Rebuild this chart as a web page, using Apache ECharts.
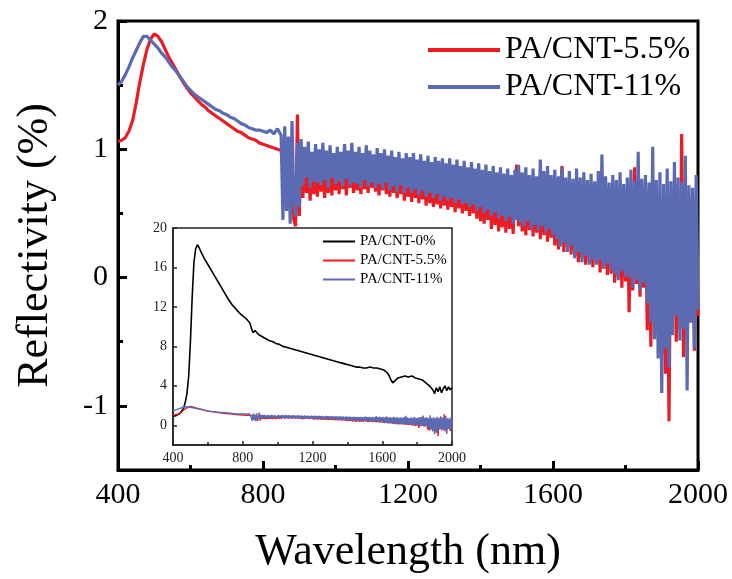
<!DOCTYPE html>
<html><head><meta charset="utf-8">
<script src="https://cdn.jsdelivr.net/npm/echarts@6/dist/echarts.min.js"></script>
<style>html,body{margin:0;padding:0;background:#fff}#c{width:732px;height:579px}</style>
</head><body><div id="c"></div>
<script>
// ---- tick values ----
const xTicks = [400, 800, 1200, 1600, 2000];
const yTicks = [-1, 0, 1, 2];
const yMinorTicks = [-0.5, 0.5, 1.5];
const insetYTicks = [0, 4, 8, 12, 16, 20];

// ---- smooth region 400..850 nm, sampled every 10 nm ----
const smoothStart = 400, smoothStep = 10;
const red55Smooth = [
  1.06,1.07,1.09,1.14,1.22,1.36,1.52,1.66,1.78,1.86,
  1.90,1.88,1.84,1.78,1.72,1.67,1.62,1.57,1.52,1.48,
  1.44,1.41,1.38,1.35,1.33,1.30,1.28,1.26,1.24,1.22,
  1.20,1.18,1.16,1.14,1.13,1.11,1.09,1.08,1.07,1.05,
  1.04,1.03,1.02,1.01,1.00,0.99];
const blue11Smooth = [
  1.50,1.53,1.58,1.64,1.71,1.77,1.83,1.88,1.88,1.85,
  1.82,1.79,1.75,1.72,1.68,1.64,1.61,1.57,1.53,1.49,
  1.46,1.43,1.41,1.39,1.37,1.35,1.33,1.31,1.30,1.28,
  1.27,1.25,1.24,1.22,1.20,1.19,1.17,1.16,1.15,1.15,
  1.14,1.13,1.15,1.12,1.16,1.11];

// ---- noisy region 855..2000 nm, sampled every 5 nm ----
const noiseStart = 855, noiseStep = 5;
const red55Noise = [
  0.98,0.70,1.00,0.62,0.95,0.75,0.45,0.40,1.27,0.48,
  0.92,0.62,0.96,0.66,0.90,0.60,0.94,0.65,0.88,0.63,
  0.93,0.67,0.90,0.62,0.95,0.66,0.89,0.64,0.92,0.68,
  0.90,0.65,0.94,0.69,0.88,0.64,0.92,0.70,0.89,0.66,
  0.93,0.68,0.88,0.65,0.91,0.69,0.87,0.66,0.92,0.70,
  0.88,0.67,0.91,0.64,0.87,0.68,0.90,0.65,0.86,0.63,
  0.89,0.66,0.85,0.62,0.88,0.65,0.84,0.60,0.87,0.63,
  0.84,0.59,0.88,0.62,0.83,0.58,0.86,0.61,0.82,0.56,
  0.85,0.58,0.81,0.55,0.84,0.57,0.80,0.54,0.83,0.56,
  0.79,0.53,0.82,0.55,0.78,0.51,0.81,0.54,0.77,0.50,
  0.80,0.52,0.76,0.48,0.79,0.50,0.75,0.46,0.78,0.44,
  0.74,0.42,0.77,0.45,0.73,0.38,0.76,0.41,0.72,0.36,
  0.75,0.39,0.71,0.35,0.74,0.38,0.70,0.34,0.73,0.88,
  0.40,0.72,0.36,0.70,0.33,0.74,0.37,0.69,0.32,0.72,
  0.35,0.68,0.30,0.71,0.33,0.67,0.28,0.70,0.31,0.66,
  0.25,0.69,0.22,0.65,0.87,0.20,0.68,0.24,0.64,0.18,
  0.67,0.17,0.63,0.12,0.66,0.15,0.62,0.10,0.65,0.12,
  0.60,0.08,0.64,0.11,0.59,0.04,0.63,0.07,0.58,0.02,
  0.62,0.03,0.57,-0.04,0.61,0.00,0.56,-0.08,0.60,-0.03,
  0.55,-0.27,0.59,-0.10,0.86,-0.05,0.58,-0.15,0.53,-0.08,
  0.57,-0.41,0.52,-0.54,0.56,-0.30,0.51,-0.45,0.55,-0.60,
  0.50,-0.75,0.54,-1.12,0.49,-0.28,0.53,-0.50,0.48,-0.40,
  1.12,-0.62,0.52,-0.45,0.47,-0.35,0.51,-0.57,0.46,-0.30];
const blue11Noise = [
  0.45,1.18,0.52,1.10,0.42,1.22,0.60,0.48,1.05,0.55,
  1.08,0.72,1.02,0.78,1.06,0.70,0.98,0.75,1.04,0.74,
  1.00,0.72,1.05,0.76,0.99,0.70,1.03,0.78,0.97,0.73,
  1.02,0.75,0.98,0.71,1.04,0.77,0.99,0.72,1.05,0.74,
  0.98,0.73,1.02,0.70,0.97,0.76,1.03,0.71,0.99,0.74,
  0.96,0.70,1.01,0.73,0.97,0.69,1.00,0.74,0.95,0.68,
  0.99,0.71,0.94,0.67,0.98,0.72,0.93,0.66,0.97,0.70,
  0.94,0.66,0.97,0.69,0.92,0.64,0.96,0.68,0.91,0.63,
  0.95,0.66,0.90,0.62,0.94,0.65,0.91,0.60,0.93,0.63,
  0.89,0.60,0.93,0.62,0.88,0.58,0.92,0.61,0.87,0.57,
  0.91,0.58,0.86,0.55,0.90,0.57,0.85,0.52,0.89,0.55,
  0.84,0.50,0.88,0.53,0.83,0.48,0.87,0.51,0.82,0.46,
  0.86,0.48,0.81,0.44,0.85,0.47,0.80,0.42,0.84,0.45,
  0.88,0.43,0.82,0.40,0.86,0.44,0.80,0.38,0.85,0.41,
  0.79,0.37,0.92,0.40,0.83,0.35,0.87,0.38,0.80,0.33,
  0.84,0.30,0.79,0.24,0.86,0.27,0.78,0.20,0.83,0.25,
  0.77,0.15,0.85,0.20,0.78,0.12,0.82,0.17,0.76,0.10,
  0.81,0.14,0.75,0.10,0.83,0.13,0.96,0.07,0.79,0.11,
  0.74,0.06,0.80,0.03,0.76,-0.02,0.82,0.05,0.73,0.01,
  0.78,0.00,0.84,-0.08,0.75,-0.02,0.98,-0.10,0.77,-0.04,
  0.80,-0.20,0.74,-0.35,1.02,-0.48,0.76,-0.63,0.82,-0.90,
  0.73,-0.55,0.85,-0.70,0.75,-0.45,0.90,-0.30,0.78,-0.49,
  0.74,-0.40,0.95,-0.88,0.72,-0.35,0.70,-0.55,0.80,-0.25];

// ---- inset PA/CNT-0% ----
const black0Wl = [400,420,440,460,470,480,490,500,510,520,530,540,550,560,580,600,620,640,660,680,
  700,720,740,760,780,800,820,840,850,858,870,890,910,930,950,970,990,1010,1030,1050,
  1070,1090,1110,1130,1150,1170,1190,1210,1230,1250,1270,1290,1310,1330,1350,1370,1390,1410,1430,1450,
  1470,1490,1510,1530,1550,1570,1590,1610,1630,1640,1650,1660,1670,1690,1710,1730,1750,1770,1790,1810,
  1830,1850,1870,1890,1900,1910,1920,1930,1940,1950,1960,1970,1980,1990,2000];
const black0Val = [0.9,1.0,1.2,1.7,2.3,3.2,5.0,8.5,13.0,16.5,17.9,18.3,18.0,17.6,16.9,16.3,15.7,15.1,14.5,13.9,
  13.3,12.7,12.2,11.8,11.4,11.1,10.8,10.4,10.2,9.4,9.6,9.2,9.0,8.8,8.6,8.5,8.3,8.2,8.0,7.9,
  7.8,7.7,7.6,7.5,7.4,7.3,7.2,7.1,7.0,6.9,6.8,6.7,6.6,6.5,6.4,6.3,6.2,6.1,6.0,5.9,
  5.9,5.8,5.8,5.9,5.8,5.8,5.7,5.6,5.3,5.0,4.6,4.3,4.5,4.8,4.9,5.0,4.9,5.0,4.8,4.7,
  4.6,4.3,4.0,3.6,3.2,3.8,3.4,3.9,3.3,3.7,4.0,3.5,3.9,3.6,3.8];

function build(smooth, noise) {
  return smooth.map((v, i) => [smoothStart + smoothStep * i, v])
    .concat(noise.map((v, i) => [noiseStart + noiseStep * i, v]));
}
const redData = build(red55Smooth, red55Noise);
const blueData = build(blue11Smooth, blue11Noise);
const blackData = black0Wl.map((w, i) => [w, black0Val[i]]);

const RED = '#ec1c24', BLUE = '#5b6bb3', BLACK = '#000';
const FONT = "'Liberation Serif', 'Times New Roman', serif";
const plain = v => String(v);

const chart = echarts.init(document.getElementById('c'), null, {renderer: 'canvas'});
chart.setOption({
  animation: false,
  backgroundColor: '#fff',
  grid: [
    {left: 118, top: 21, width: 580, height: 451, show: true, borderColor: '#000', borderWidth: 3, backgroundColor: 'transparent'},
    {left: 173, top: 228, width: 279, height: 217, show: true, borderColor: '#222', borderWidth: 1.5, backgroundColor: '#fff'}
  ],
  legend: [
    {data: ['PA/CNT-5.5%', 'PA/CNT-11%'], orient: 'vertical', left: 428, top: 34, padding: 0, icon: 'rect',
     itemWidth: 72, itemHeight: 4, itemGap: 5,
     textStyle: {fontFamily: FONT, fontSize: 32, color: '#000'}},
    {data: ['PA/CNT-0% ', 'PA/CNT-5.5% ', 'PA/CNT-11% '], orient: 'vertical', left: 323, top: 234, padding: 0, icon: 'rect',
     itemWidth: 32, itemHeight: 2, itemGap: 4,
     textStyle: {fontFamily: FONT, fontSize: 15, color: '#000'}}
  ],
  xAxis: [
    {type: 'value', gridIndex: 0, min: 400, max: 2000, interval: 400,
     axisLine: {onZero: false, lineStyle: {color: '#000', width: 3}},
     axisTick: {inside: true, length: 9, lineStyle: {width: 3, color: '#000'}},
     minorTick: {show: true, splitNumber: 2, length: 5, lineStyle: {width: 3, color: '#000'}},
     axisLabel: {fontFamily: FONT, fontSize: 30, color: '#000', margin: 10, customValues: xTicks, formatter: plain},
     splitLine: {show: false},
     name: 'Wavelength (nm)', nameLocation: 'middle', nameGap: 60,
     nameTextStyle: {fontFamily: FONT, fontSize: 44, color: '#000'}},
    {type: 'value', gridIndex: 1, min: 400, max: 2000, interval: 400,
     axisLine: {onZero: false, lineStyle: {color: '#222', width: 1.5}},
     axisTick: {inside: true, length: 4, lineStyle: {width: 1.5, color: '#222'}},
     minorTick: {show: true, splitNumber: 2, length: 3, lineStyle: {width: 1.5, color: '#222'}},
     axisLabel: {fontFamily: FONT, fontSize: 14, color: '#222', margin: 6, formatter: plain},
     splitLine: {show: false}}
  ],
  yAxis: [
    {type: 'value', gridIndex: 0, min: -1.5, max: 2,
     axisLine: {onZero: false, lineStyle: {color: '#000', width: 3}},
     axisTick: {inside: true, length: 9, lineStyle: {width: 3, color: '#000'}, customValues: yTicks},
     axisLabel: {fontFamily: FONT, fontSize: 30, color: '#000', margin: 10, customValues: yTicks},
     splitLine: {show: false},
     name: 'Reflectivity (%)', nameLocation: 'middle', nameGap: 61,
     nameTextStyle: {fontFamily: FONT, fontSize: 44, color: '#000'}},
    {type: 'value', gridIndex: 0, min: -1.5, max: 2, position: 'left',
     axisLine: {show: false, onZero: false},
     axisTick: {inside: true, length: 5, lineStyle: {width: 3, color: '#000'}, customValues: yMinorTicks},
     axisLabel: {show: false}, splitLine: {show: false}},
    {type: 'value', gridIndex: 1, min: -2, max: 20,
     axisLine: {onZero: false, lineStyle: {color: '#222', width: 1.5}},
     axisTick: {inside: true, length: 4, lineStyle: {width: 1.5, color: '#222'}, customValues: insetYTicks},
     axisLabel: {fontFamily: FONT, fontSize: 14, color: '#222', margin: 6, customValues: insetYTicks},
     splitLine: {show: false}}
  ],
  series: [
    {name: 'PA/CNT-5.5%', type: 'line', xAxisIndex: 0, yAxisIndex: 0, data: redData, showSymbol: false, symbol: 'none',
     lineStyle: {color: RED, width: 3.2}, itemStyle: {color: RED}, z: 2},
    {name: 'PA/CNT-11%', type: 'line', xAxisIndex: 0, yAxisIndex: 0, data: blueData, showSymbol: false, symbol: 'none',
     lineStyle: {color: BLUE, width: 3.2}, itemStyle: {color: BLUE}, z: 3},
    {name: 'PA/CNT-0% ', type: 'line', xAxisIndex: 1, yAxisIndex: 2, data: blackData, showSymbol: false, symbol: 'none',
     lineStyle: {color: BLACK, width: 1.6}, itemStyle: {color: BLACK}, z: 5},
    {name: 'PA/CNT-5.5% ', type: 'line', xAxisIndex: 1, yAxisIndex: 2, data: redData, showSymbol: false, symbol: 'none',
     lineStyle: {color: RED, width: 1.4}, itemStyle: {color: RED}, z: 6},
    {name: 'PA/CNT-11% ', type: 'line', xAxisIndex: 1, yAxisIndex: 2, data: blueData, showSymbol: false, symbol: 'none',
     lineStyle: {color: BLUE, width: 1.4}, itemStyle: {color: BLUE}, z: 7}
  ]
});
</script></body></html>
